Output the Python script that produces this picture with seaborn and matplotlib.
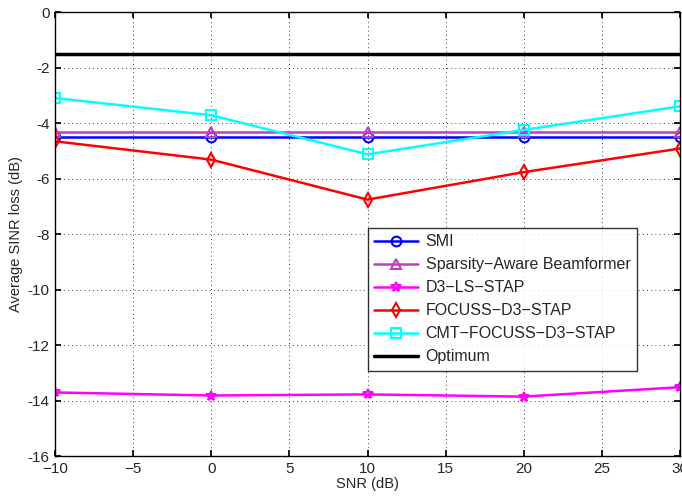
import numpy as np
import pandas as pd
import matplotlib
matplotlib.use("Agg")
import matplotlib.pyplot as plt
import seaborn as sns

snr = [-10, 0, 10, 20, 30]
smi = [-4.52, -4.52, -4.52, -4.52, -4.52]
sparsity = [-4.32, -4.32, -4.32, -4.32, -4.32]
d3ls = [-13.71, -13.82, -13.78, -13.86, -13.52]
focuss = [-4.66, -5.32, -6.76, -5.77, -4.92]
cmt = [-3.10, -3.72, -5.13, -4.25, -3.40]
optimum = [-1.50, -1.50, -1.50, -1.50, -1.50]

names = ["SMI", "Sparsity\u2212Aware Beamformer", "D3\u2212LS\u2212STAP",
         "FOCUSS\u2212D3\u2212STAP", "CMT\u2212FOCUSS\u2212D3\u2212STAP", "Optimum"]
series = [smi, sparsity, d3ls, focuss, cmt, optimum]
colors = ["#0000ff", "#bf40bf", "#ff00ff", "#ff0000", "#00ffff", "#000000"]
markers = ["o", "^", "*", "d", "s", None]

sns.set_theme(style="white")
plt.rcParams['font.family'] = ['Liberation Sans', 'DejaVu Sans']

fig = plt.figure(figsize=(6.82, 4.98), dpi=100)
ax = fig.add_axes([55/682, 42/498, 625/682, 444/498])

for name, vals, c, m in zip(names, series, colors, markers):
    df = pd.DataFrame({"SNR": snr, "loss": vals})
    kw = dict(marker=m, markersize=7, markerfacecolor="none",
              markeredgecolor=c, markeredgewidth=1.5) if m else {}
    lw = 2.5 if name == "Optimum" else 1.8
    sns.lineplot(data=df, x="SNR", y="loss", ax=ax, color=c, linewidth=lw,
                 label=name, **kw)

ax.set_xlim(-10, 30)
ax.set_ylim(-16, 0)
ax.set_xticks(np.arange(-10, 31, 5))
ax.set_yticks(np.arange(-16, 1, 2))
ax.set_yticklabels([str(v) for v in range(-16, 1, 2)])
ax.grid(True, color="black", linestyle=(0, (1, 4)), linewidth=0.6)
for s in ax.spines.values():
    s.set_color("black")
    s.set_linewidth(1.0)
ax.tick_params(direction="in", length=4, color="black", labelsize=11,
               bottom=True, left=True, top=True, right=True, pad=4)
ax.set_xlabel("SNR (dB)", fontsize=10.5, labelpad=1)
ax.set_ylabel("Average SINR loss (dB)", fontsize=10.5, labelpad=3)

leg = ax.legend(loc="upper left", bbox_to_anchor=(313/625, (456-228)/444),
                frameon=True, fancybox=False, fontsize=11.5,
                handlelength=2.7, borderpad=0.4, labelspacing=0.5,
                handletextpad=0.5, borderaxespad=0)
leg.get_frame().set_edgecolor("black")
leg.get_frame().set_linewidth(1.0)

fig.savefig("out.png", dpi=100)
